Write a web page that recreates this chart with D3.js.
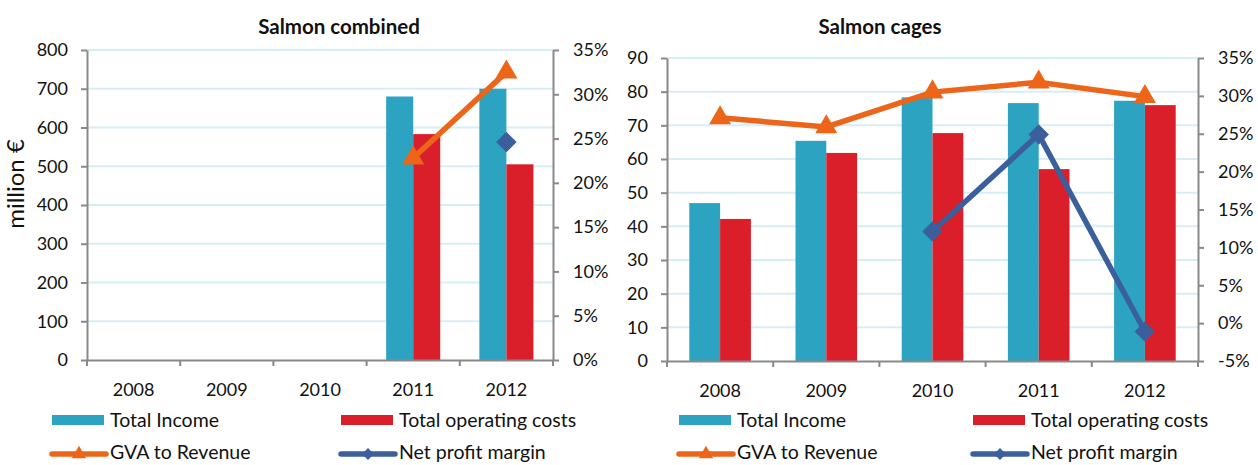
<!DOCTYPE html>
<html>
<head>
<meta charset="utf-8">
<script src="https://cdn.jsdelivr.net/npm/d3@7"></script>
<style>
	body { margin: 0; background: #fff; }
	svg { display: block; font-family: Lato, "Open Sans", sans-serif; }
</style>
</head>
<body>
<div id="chartContainer"></div>
<script>

// chart data
let g_years = ["2008", "2009", "2010", "2011", "2012"];

let g_combinedIncome = [null, null, null, 680, 700];
let g_combinedCosts = [null, null, null, 583, 505];
let g_combinedGva = [null, null, null, 22.8, 32.5];
let g_combinedNetProfit = [null, null, null, null, 24.6];

let g_cagesIncome = [46.9, 65.4, 78.3, 76.6, 77.3];
let g_cagesCosts = [42.2, 61.8, 67.7, 57.0, 76.0];
let g_cagesGva = [27.1, 25.9, 30.5, 31.8, 29.9];
let g_cagesNetProfit = [null, null, 12.1, 24.9, -1.1];

let g_combinedValueTicks = [0, 100, 200, 300, 400, 500, 600, 700, 800];
let g_combinedPercentTicks = [0, 5, 10, 15, 20, 25, 30, 35];
let g_cagesValueTicks = [0, 10, 20, 30, 40, 50, 60, 70, 80, 90];
let g_cagesPercentTicks = [-5, 0, 5, 10, 15, 20, 25, 30, 35];

let g_legendItems = [
	{ name: "Total Income", type: "bar", color: "#2ca3c0" },
	{ name: "Total operating costs", type: "bar", color: "#da1f2a" },
	{ name: "GVA to Revenue", type: "triangle", color: "#ec6519" },
	{ name: "Net profit margin", type: "diamond", color: "#3a5f9c" }
];

const COLOR_INCOME = "#2ca3c0";
const COLOR_COSTS = "#da1f2a";
const COLOR_GVA = "#ec6519";
const COLOR_NET = "#3a5f9c";
const COLOR_AXIS = "#898989";
const COLOR_GRID = "#d8eef6";

let svg = d3.select("#chartContainer")
	.append("svg")
	.attr("width", 1258)
	.attr("height", 465);

function drawPanel(opts)
{
	let g = svg.append("g");

	let x = d3.scaleBand()
		.domain(g_years)
		.range([opts.left, opts.right])
		.paddingInner(0.42)
		.paddingOuter(0.21);

	let yValue = d3.scaleLinear()
		.domain(d3.extent(opts.valueTicks))
		.range([opts.bottom, opts.top]);

	let yPercent = d3.scaleLinear()
		.domain(d3.extent(opts.percentTicks))
		.range([opts.bottom, opts.top]);

	// gridlines
	g.append("g")
		.selectAll("line")
		.data(opts.valueTicks.filter(d => d > 0))
		.join("line")
		.attr("x1", opts.left)
		.attr("x2", opts.right)
		.attr("y1", d => yValue(d))
		.attr("y2", d => yValue(d))
		.attr("stroke", COLOR_GRID)
		.attr("stroke-width", 2);

	// bars
	let barW = x.bandwidth() / 2;
	let bars = g.append("g");
	bars.selectAll("rect.income")
		.data(g_years.map((y, i) => ({ year: y, v: opts.income[i] })).filter(d => d.v != null))
		.join("rect")
		.attr("class", "income")
		.attr("x", d => x(d.year))
		.attr("width", barW)
		.attr("y", d => yValue(d.v))
		.attr("height", d => yValue(0) - yValue(d.v))
		.attr("fill", COLOR_INCOME);
	bars.selectAll("rect.costs")
		.data(g_years.map((y, i) => ({ year: y, v: opts.costs[i] })).filter(d => d.v != null))
		.join("rect")
		.attr("class", "costs")
		.attr("x", d => x(d.year) + barW)
		.attr("width", barW)
		.attr("y", d => yValue(d.v))
		.attr("height", d => yValue(0) - yValue(d.v))
		.attr("fill", COLOR_COSTS);

	// left axis
	let leftAxis = g.append("g")
		.attr("transform", "translate(" + opts.left + ",0)")
		.call(d3.axisLeft(yValue).tickValues(opts.valueTicks).tickSize(6).tickPadding(13).tickSizeOuter(0));

	// right axis
	let rightAxis = g.append("g")
		.attr("transform", "translate(" + opts.right + ",0)")
		.call(d3.axisRight(yPercent).tickValues(opts.percentTicks).tickFormat(d => d + "%").tickSize(6).tickPadding(14).tickSizeOuter(0));

	// bottom axis: labels at centers, ticks at category boundaries
	let bottomAxis = g.append("g")
		.attr("transform", "translate(0," + opts.bottom + ")")
		.call(d3.axisBottom(x).tickSize(0).tickPadding(23).tickSizeOuter(0));

	let step = x.step();
	let boundaries = d3.range(g_years.length + 1).map(i => opts.left + i * step);
	bottomAxis.selectAll("line.boundary")
		.data(boundaries)
		.join("line")
		.attr("class", "boundary")
		.attr("x1", d => d)
		.attr("x2", d => d)
		.attr("y1", 0)
		.attr("y2", 6)
		.attr("stroke", COLOR_AXIS)
		.attr("stroke-width", 2);

	[leftAxis, rightAxis, bottomAxis].forEach(a => {
		a.selectAll("path.domain").attr("stroke", COLOR_AXIS).attr("stroke-width", 2);
		a.selectAll(".tick line").attr("stroke", COLOR_AXIS).attr("stroke-width", 2);
		a.selectAll("text").attr("font-size", 18).attr("fill", "#111").attr("font-family", "Lato, sans-serif");
	});

	// lines
	let cx = year => x(year) + x.bandwidth() / 2;
	let line = d3.line()
		.defined(d => d.v != null)
		.x(d => cx(d.year))
		.y(d => yPercent(d.v));

	let gvaData = g_years.map((y, i) => ({ year: y, v: opts.gva[i] }));
	let netData = g_years.map((y, i) => ({ year: y, v: opts.net[i] }));

	g.append("path")
		.datum(gvaData)
		.attr("d", line)
		.attr("fill", "none")
		.attr("stroke", COLOR_GVA)
		.attr("stroke-width", 5.5);
	g.selectAll("path.gvaMarker")
		.data(gvaData.filter(d => d.v != null))
		.join("path")
		.attr("class", "gvaMarker")
		.attr("d", d3.symbol(d3.symbolTriangle, 210))
		.attr("transform", d => "translate(" + cx(d.year) + "," + yPercent(d.v) + ")")
		.attr("fill", COLOR_GVA);

	g.append("path")
		.datum(netData)
		.attr("d", line)
		.attr("fill", "none")
		.attr("stroke", COLOR_NET)
		.attr("stroke-width", 5.5);
	g.selectAll("path.netMarker")
		.data(netData.filter(d => d.v != null))
		.join("path")
		.attr("class", "netMarker")
		.attr("d", d3.symbol(d3.symbolSquare, 210))
		.attr("transform", d => "translate(" + cx(d.year) + "," + yPercent(d.v) + ") rotate(45)")
		.attr("fill", COLOR_NET);

	// title
	g.append("text")
		.attr("x", opts.titleX)
		.attr("y", 34)
		.attr("text-anchor", "middle")
		.attr("font-size", 20.5)
		.attr("font-weight", "bold")
		.attr("fill", "#111")
		.text(opts.title);

	if (opts.yLabel)
	{
		g.append("text")
			.attr("transform", "translate(24,184) rotate(-90)")
			.attr("text-anchor", "middle")
			.attr("font-size", 24)
			.attr("fill", "#111")
			.text(opts.yLabel);
	}

	// legend
	let legend = g.append("g");
	g_legendItems.forEach((item, i) => {
		let lx = opts.legendX[i % 2];
		let ly = i < 2 ? 420 : 454;
		let item_g = legend.append("g").attr("transform", "translate(" + lx + "," + ly + ")");
		if (item.type == "bar")
		{
			item_g.append("rect")
				.attr("x", 0)
				.attr("y", -5)
				.attr("width", 52)
				.attr("height", 10)
				.attr("fill", item.color);
		}
		else
		{
			item_g.append("line")
				.attr("x1", 0)
				.attr("x2", 54)
				.attr("y1", 0)
				.attr("y2", 0)
				.attr("stroke", item.color)
				.attr("stroke-width", 5.5)
				.attr("stroke-linecap", "round");
			item_g.append("path")
				.attr("d", item.type == "triangle" ? d3.symbol(d3.symbolTriangle, 90) : d3.symbol(d3.symbolSquare, 70))
				.attr("transform", "translate(27,0)" + (item.type == "diamond" ? " rotate(45)" : ""))
				.attr("fill", item.color);
		}
		item_g.append("text")
			.attr("x", 58)
			.attr("y", i < 2 ? 7 : 5)
			.attr("font-size", 19.5)
			.attr("fill", "#111")
			.text(item.name);
	});
}

drawPanel({
	title: "Salmon combined",
	titleX: 339,
	yLabel: "million €",
	left: 87,
	right: 553,
	top: 50,
	bottom: 360,
	income: g_combinedIncome,
	costs: g_combinedCosts,
	gva: g_combinedGva,
	net: g_combinedNetProfit,
	valueTicks: g_combinedValueTicks,
	percentTicks: g_combinedPercentTicks,
	legendX: [52, 341]
});

drawPanel({
	title: "Salmon cages",
	titleX: 880,
	left: 667,
	right: 1198,
	top: 58,
	bottom: 361,
	income: g_cagesIncome,
	costs: g_cagesCosts,
	gva: g_cagesGva,
	net: g_cagesNetProfit,
	valueTicks: g_cagesValueTicks,
	percentTicks: g_cagesPercentTicks,
	legendX: [679, 973]
});

</script>
</body>
</html>
